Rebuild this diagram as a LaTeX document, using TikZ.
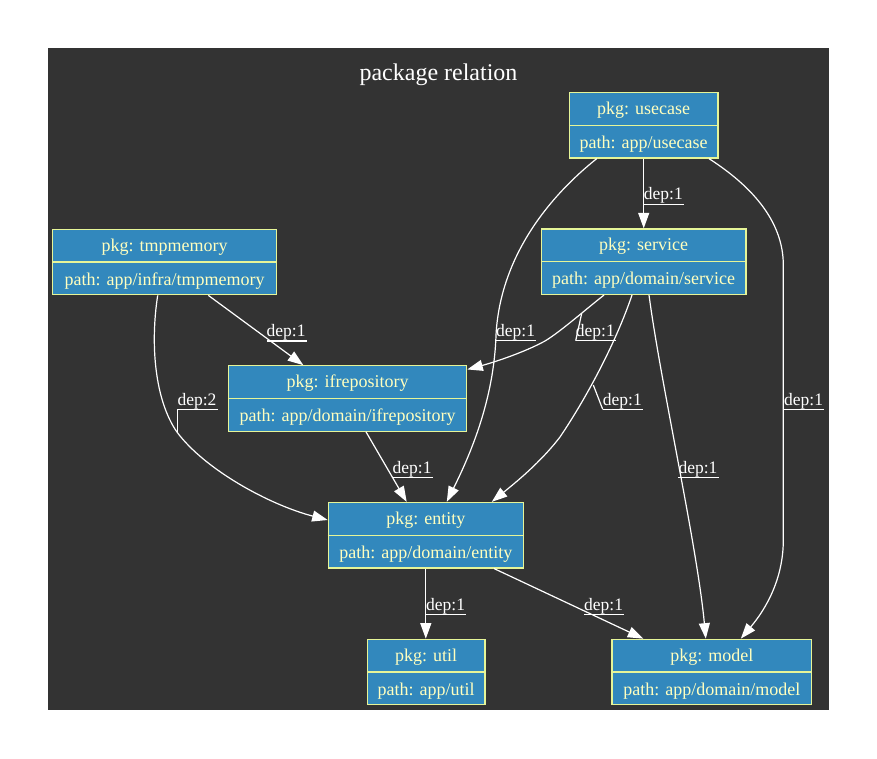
\documentclass[tikz,border=0pt]{standalone}
\usepackage{fontspec}
\setmainfont{Liberation Serif}
\usetikzlibrary{arrows.meta,calc}
\definecolor{bgdark}{HTML}{333333}
\definecolor{pkgfill}{HTML}{3288BD}
\definecolor{pkgline}{HTML}{E6F598}
\definecolor{pkgtext}{HTML}{FFFFBF}
\tikzset{
  pkgbox/.style={draw=pkgline, fill=pkgfill, line width=1.2pt, minimum height=65.5pt, inner sep=0pt},
  pkgsep/.style={draw=pkgline, line width=1.2pt},
  pkgtxt/.style={text=pkgtext, font=\fontsize{18}{20}\selectfont, inner sep=0pt, anchor=base},
  dep/.style={draw=white, line width=1.2pt, -{Triangle[length=15.5pt,width=11pt]}},
  deplbl/.style={text=white, font=\fontsize{17.5}{20}\selectfont, inner sep=0pt, anchor=base west},
  uline/.style={draw=white, line width=1.2pt},
}
\newcommand{\pkgbox}[6]{%
  \node[pkgbox, minimum width=#4pt] (#1) at (#2,#3) {};
  \draw[pkgsep] (#1.west) -- (#1.east);
  \node[pkgtxt] (#1-name) at ($(#1.north)+(0,22.5)$) {#5};
  \node[pkgtxt] (#1-path) at ($(#1.center)+(0,23)$) {#6};
}
\newcommand{\deplabel}[4]{%
  \node[deplbl] (#1) at (#2,#3-4.3) {#4};
  \draw[uline] ($(#1.base west)+(0,4.3)$) -- ($(#1.base east)+(1,4.3)$);
}
\begin{document}
\begin{tikzpicture}[x=1pt,y=-1pt]
\useasboundingbox (0,0) rectangle (877,759);
\fill[white] (0,0) rectangle (877,759);
\fill[bgdark] (48,48) rectangle (829,710);
\node[text=white, font=\fontsize{24}{28}\selectfont, inner sep=0pt] (title) at (438.5,74.5) {package relation};

\pkgbox{usecase}{643.7}{125.3}{148.7}{pkg: usecase}{path: app/usecase}
\pkgbox{service}{643.7}{261.7}{204.7}{pkg: service}{path: app/domain/service}
\pkgbox{tmpmemory}{164.7}{262}{224}{pkg: tmpmemory}{path: app/infra/tmpmemory}
\pkgbox{ifrepository}{347.7}{398.5}{238}{pkg: ifrepository}{path: app/domain/ifrepository}
\pkgbox{entity}{425.8}{535.2}{195}{pkg: entity}{path: app/domain/entity}
\pkgbox{util}{426.2}{672}{117.7}{pkg: util}{path: app/util}
\pkgbox{model}{711.8}{672}{199.7}{pkg: model}{path: app/domain/model}

% edges
\draw[dep] (usecase.south) -- (service.north);
\draw[dep] ($(usecase.south)+(-47,0)$) .. controls (545,200) and (500,260) .. (496,335)
  .. controls (494,400) and (470,455) .. ($(entity.north)+(21,0)$);
\draw[dep] ($(usecase.south)+(65.3,0)$) .. controls (750,185) and (783.3,220) .. (783.3,265)
  -- (783.3,540) .. controls (783.3,580) and (765,610) .. ($(model.north)+(29,0)$);
\draw[dep] ($(service.south)+(-39.7,0)$) .. controls (585,310) and (560,332) .. (545,341)
  .. controls (525,352) and (495,362) .. ($(ifrepository.north east)+(0,4.3)$);
\draw[dep] ($(service.south)+(-11.7,0)$) .. controls (615,345) and (585,400) .. (560,437)
  .. controls (540,463) and (515,483) .. ($(entity.north)+(66,0)$);
\draw[dep] ($(service.south)+(5.3,0)$) .. controls (661,385) and (697,545) .. ($(model.north)+(-6,0)$);
\draw[dep] ($(tmpmemory.south)+(43.6,0)$) -- ($(ifrepository.north)+(-44.4,0)$);
\draw[dep] ($(tmpmemory.south)+(-7,0)$) .. controls (150,345) and (155,400) .. (176.7,431.7)
  .. controls (205,470) and (270,505) .. ($(entity.west)+(0,-15.2)$);
\draw[dep] ($(ifrepository.south)+(18.3,0)$) -- ($(entity.north)+(-19.1,0)$);
\draw[dep] (entity.south) -- (entity.south |- util.north);
\draw[dep] ($(entity.south)+(68.2,0)$) -- ($(model.north)+(-68.5,0)$);

% labels
\deplabel{l1}{643.7}{204.3}{dep:1}
\deplabel{l2}{496}{340.7}{dep:1}
\deplabel{l3}{784}{409.3}{dep:1}
\deplabel{l4}{575.7}{340.7}{dep:1}
\deplabel{l5}{602.7}{409.3}{dep:1}
\deplabel{l6}{678.3}{477.7}{dep:1}
\deplabel{l7}{266.5}{341}{dep:1}
\deplabel{l8}{177.3}{409.3}{dep:2}
\deplabel{l9}{392.5}{477.7}{dep:1}
\deplabel{l10}{426}{614.3}{dep:1}
\deplabel{l11}{584}{614.3}{dep:1}

% label leaders
\coordinate (m4) at (581.7,313.3);
\coordinate (m5) at (593.3,385);
\coordinate (m8) at (177.3,431.7);
\draw[uline] ($(l4.base west)+(0,4.3)$) -- (m4);
\draw[uline] ($(l5.base west)+(0,4.3)$) -- (m5);
\draw[uline] ($(l8.base west)+(0,4.3)$) -- (m8);
\end{tikzpicture}
\end{document}
